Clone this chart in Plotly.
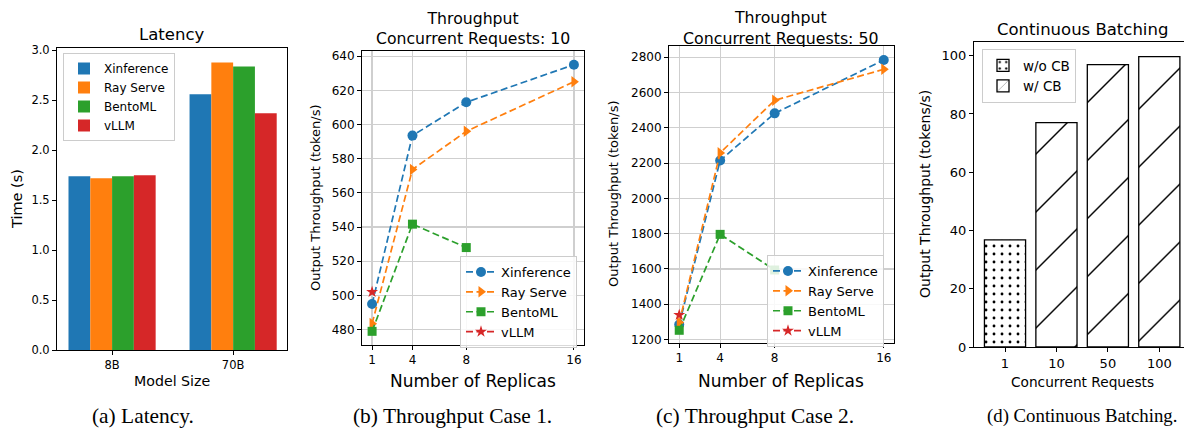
import plotly.graph_objects as go

W, H = 1184, 428

# ---------------- data ----------------
model_sizes = ["8B", "70B"]
frameworks = ["Xinference", "Ray Serve", "BentoML", "vLLM"]
latency = {
    "Xinference": [1.74, 2.56],
    "Ray Serve": [1.72, 2.88],
    "BentoML": [1.74, 2.84],
    "vLLM": [1.75, 2.37],
}

replicas = [1, 4, 8, 16]
tp10_xinference = [495, 593.5, 613, 635]
tp10_rayserve = [483.5, 573.7, 596, 625]
tp10_bentoml = [479, 541.7, 528]
tp10_vllm = [502]

tp50_xinference = [1285, 2215, 2482, 2785]
tp50_rayserve = [1296, 2258, 2556, 2732]
tp50_bentoml = [1252, 1796, 1594]
tp50_vllm = [1339]

cb_requests = ["1", "10", "50", "100"]
cb_without = [36.8]
cb_with = [77.0, 96.9, 99.7]

colors = {"Xinference": "#1f77b4", "Ray Serve": "#ff7f0e",
          "BentoML": "#2ca02c", "vLLM": "#d62728"}
symbols = {"Xinference": "circle", "Ray Serve": "triangle-right",
           "BentoML": "square", "vLLM": "star"}
msize = {"Xinference": 10, "Ray Serve": 10, "BentoML": 9, "vLLM": 9}

FONT = "DejaVu Sans"
SERIF = "Liberation Serif"


def px(x):
    return x / W


def py(y):
    return 1 - y / H


fig = go.Figure()

# ---------------- (a) latency bars ----------------
offsets = [-0.36, -0.18, 0.0, 0.18]
for name, off in zip(frameworks, offsets):
    fig.add_trace(go.Bar(
        x=model_sizes, y=latency[name], name=name,
        marker=dict(color=colors[name], line=dict(width=0)),
        width=0.18, offset=off,
        xaxis="x", yaxis="y", legend="legend",
    ))

# ---------------- (b),(c) throughput lines ----------------
def add_lines(series, xa, ya, leg):
    for name, vals in series:
        fig.add_trace(go.Scatter(
            x=replicas[:len(vals)], y=vals, name=name,
            mode="lines+markers",
            line=dict(color=colors[name], width=1.7, dash="7px,3.5px"),
            marker=dict(symbol=symbols[name], size=msize[name], color=colors[name]),
            xaxis=xa, yaxis=ya, legend=leg,
        ))


add_lines([("Xinference", tp10_xinference), ("Ray Serve", tp10_rayserve),
           ("BentoML", tp10_bentoml), ("vLLM", tp10_vllm)], "x2", "y2", "legend2")
add_lines([("Xinference", tp50_xinference), ("Ray Serve", tp50_rayserve),
           ("BentoML", tp50_bentoml), ("vLLM", tp50_vllm)], "x3", "y3", "legend3")

# ---------------- (d) continuous batching ----------------
fig.add_trace(go.Bar(
    x=cb_requests[:1], y=cb_without, name="w/o CB",
    width=0.8, offset=-0.4,
    marker=dict(color="white", line=dict(color="black", width=1.3),
                pattern=dict(shape=".", fgcolor="black", bgcolor="white",
                             fgopacity=1, size=8, solidity=0.1,
                             fillmode="overlay")),
    xaxis="x4", yaxis="y4", legend="legend4",
))
fig.add_trace(go.Bar(
    x=cb_requests[1:], y=cb_with, name="w/ CB",
    width=0.8, offset=-0.4,
    marker=dict(color="white", line=dict(color="black", width=1.3),
                pattern=dict(shape="/", fgcolor="black", bgcolor="white",
                             fgopacity=1, size=41, solidity=0.035,
                             fillmode="overlay")),
    xaxis="x4", yaxis="y4", legend="legend4",
))

# ---------------- axes ----------------
def axis(domain, anchor, tickfont=12, grid=False, mirror=True, **kw):
    d = dict(domain=domain, anchor=anchor, showline=True, linecolor="black",
             linewidth=1, mirror=mirror, ticks="outside", ticklen=4,
             tickwidth=1, tickcolor="black", zeroline=False, automargin=False,
             showgrid=grid, gridcolor="#cfcfcf", gridwidth=1.2,
             tickfont=dict(family=FONT, size=tickfont, color="black"))
    d.update(kw)
    return d


fig.update_layout(
    xaxis=axis([px(57), px(287)], "y", 11.5, type="category",
               categoryarray=model_sizes, range=[-0.455, 1.445]),
    yaxis=axis([py(350), py(48)], "x", 11.5, range=[0, 3.024],
               tickvals=[0, 0.5, 1.0, 1.5, 2.0, 2.5, 3.0], tickformat=".1f"),
    xaxis2=axis([px(362), px(584)], "y2", 12, grid=True, range=[0.25, 16.75],
                tickvals=replicas),
    yaxis2=axis([py(345), py(51)], "x2", 12, grid=True, range=[471.0, 643.0],
                tickvals=[480, 500, 520, 540, 560, 580, 600, 620, 640]),
    xaxis3=axis([px(669), px(894)], "y3", 12, grid=True, range=[0.25, 16.75],
                tickvals=replicas),
    yaxis3=axis([py(343), py(46)], "x3", 12, grid=True, range=[1180, 2864],
                tickvals=[1200, 1400, 1600, 1800, 2000, 2200, 2400, 2600, 2800]),
    xaxis4=axis([px(974), 1.0], "y4", 13, type="category",
                categoryarray=cb_requests, range=[-0.603, 3.48]),
    yaxis4=axis([py(347), py(42)], "x4", 13, mirror=False, range=[0, 104.7],
                tickvals=[0, 20, 40, 60, 80, 100]),
)

# ---------------- legends ----------------
def legend(x, y, size):
    return dict(x=x, y=y, xanchor="left", yanchor="top",
                bgcolor="rgba(255,255,255,0.85)", bordercolor="#cccccc",
                borderwidth=1, font=dict(family=FONT, size=size, color="black"),
                itemclick=False, itemdoubleclick=False)


fig.update_layout(
    legend=legend(px(63), py(53), 12),
    legend2=legend(px(460), py(256), 13),
    legend3=legend(px(767), py(255), 13),
    legend4=legend(px(982), py(49), 13.5),
)

# ---------------- text ----------------
def text(t, x, y, size, angle=0, family=FONT):
    fig.add_annotation(text=t, x=px(x), y=py(y), xref="paper", yref="paper",
                       showarrow=False, textangle=angle, xanchor="center",
                       yanchor="middle",
                       font=dict(family=family, size=size, color="black"))


# titles
text("Latency", 172, 35, 16.5)
text("Throughput<br>Concurrent Requests: 10", 473, 28, 15.7)
text("Throughput<br>Concurrent Requests: 50", 781, 28, 15.8)
text("Continuous Batching", 1082, 29, 16.5)

# axis titles
text("Time (s)", 17, 199, 14.5, -90)
text("Model Size", 172, 381, 14.2)
text("Output Throughput (token/s)", 315, 198, 13, -90)
text("Number of Replicas", 473, 381, 17)
text("Output Throughput (token/s)", 613, 194, 13, -90)
text("Number of Replicas", 781, 381, 17)
text("Output Throughput (tokens/s)", 925, 194, 14, -90)
text("Concurrent Requests", 1082, 382, 13.7)

# captions
text("(a) Latency.", 143, 416, 21.4, family=SERIF)
text("(b) Throughput Case 1.", 452, 416, 21.4, family=SERIF)
text("(c) Throughput Case 2.", 755, 416, 21.4, family=SERIF)
text("(d) Continuous Batching.", 1082, 416, 18.8, family=SERIF)

fig.update_layout(
    template="none",
    width=W, height=H, margin=dict(l=0, r=0, t=0, b=0, pad=0),
    paper_bgcolor="white", plot_bgcolor="white",
    barmode="overlay", showlegend=True, hovermode=False,
    font=dict(family=FONT, color="black"),
)

fig.write_html(
    "out.html",
    config={"displayModeBar": False, "staticPlot": True},
    post_script="document.body.style.margin='0px';"
                "document.body.style.overflow='hidden';",
)
